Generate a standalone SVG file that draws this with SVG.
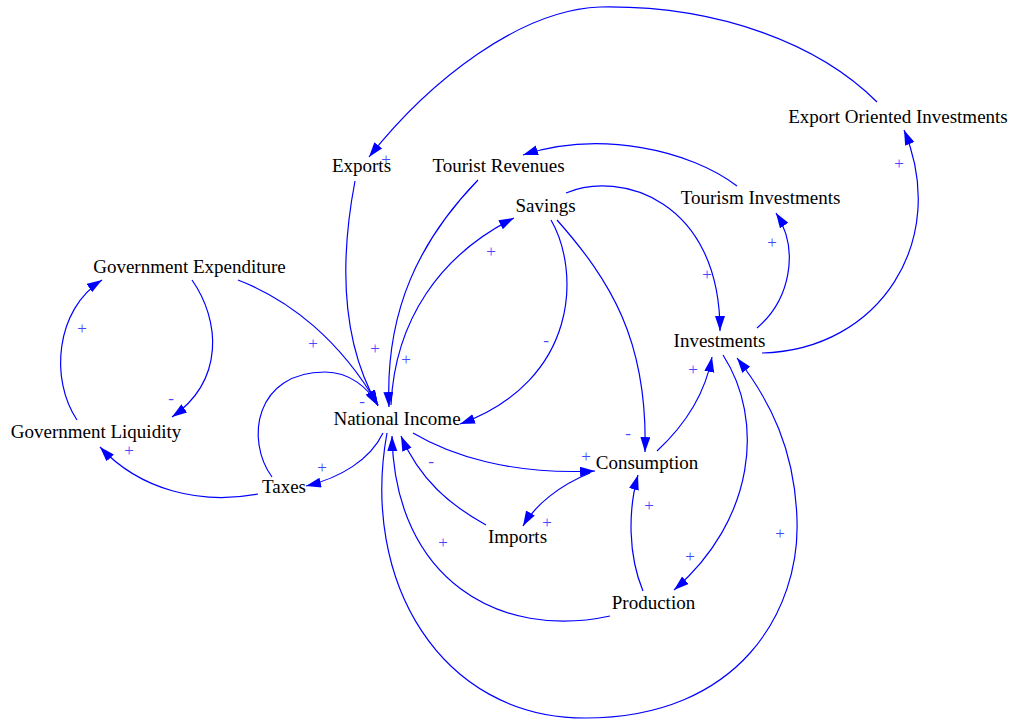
<svg xmlns="http://www.w3.org/2000/svg" width="1014" height="720" viewBox="0 0 1014 720">
<style>
.n text{font-family:"Liberation Serif","Times New Roman",serif;font-size:19px;fill:#000;text-anchor:middle}
.e path{fill:none;stroke:#0000ff;stroke-width:1.2;marker-end:url(#ah)}
.l text{font-family:"Liberation Serif","Times New Roman",serif;font-size:17px;fill:#4646ff;text-anchor:middle}
</style>
<defs>
<marker id="ah" markerUnits="userSpaceOnUse" markerWidth="16" markerHeight="11" refX="15" refY="5" orient="auto">
<path d="M0,0 L15,5 L0,10 z" fill="#0000ff"/>
</marker>
</defs>
<rect width="1014" height="720" fill="#fff"/>
<g id="connectors" class="e">
<path d="M877,102 C820,45 720,5 600,7 C520,10 430,80 369,157"/>
<path d="M737,186 C690,150 600,130 523,155"/>
<path d="M566,193 C620,170 720,200 720,331"/>
<path d="M757,328 C790,300 800,250 776,213"/>
<path d="M762,353 C880,350 950,240 904,130"/>
<path d="M355,181 C340,260 340,340 378,406"/>
<path d="M478,180 C420,240 385,310 389,407"/>
<path d="M391,405 C395,320 440,255 514,218"/>
<path d="M238,280 C290,300 340,340 378,405"/>
<path d="M272,477 C245,440 255,372 325,372 C350,372 368,388 378,405"/>
<path d="M192,280 C220,320 225,380 172,417"/>
<path d="M77,420 C50,380 55,310 102,280"/>
<path d="M258,494 C200,505 140,490 100,447"/>
<path d="M383,433 C370,460 340,478 306,486"/>
<path d="M551,220 C580,270 580,380 460,424"/>
<path d="M557,220 C610,280 648,340 645,452"/>
<path d="M413,433 C450,455 510,475 595,471"/>
<path d="M590,473 C560,485 535,505 523,526"/>
<path d="M486,525 C450,505 420,480 401,436"/>
<path d="M657,451 C685,425 705,395 712,357"/>
<path d="M723,355 C765,420 755,520 674,590"/>
<path d="M643,591 C628,555 628,510 638,475"/>
<path d="M610,616 C500,640 395,580 392,436"/>
<path d="M387,433 C360,580 440,718 585,718 C740,718 800,610 797,520 C795,450 770,400 737,358"/>
</g>
<g class="l">
<text x="386" y="165">+</text>
<text x="707" y="280">+</text>
<text x="772" y="248">+</text>
<text x="899" y="169">+</text>
<text x="313" y="349">+</text>
<text x="375" y="354">+</text>
<text x="406" y="365">+</text>
<text x="491" y="257">+</text>
<text x="362" y="407">-</text>
<text x="171" y="404">-</text>
<text x="82" y="334">+</text>
<text x="129" y="456">+</text>
<text x="322" y="473">+</text>
<text x="546" y="346">-</text>
<text x="628" y="439">-</text>
<text x="586" y="462">+</text>
<text x="547" y="528">+</text>
<text x="431" y="467">-</text>
<text x="693" y="375">+</text>
<text x="690" y="562">+</text>
<text x="649" y="511">+</text>
<text x="443" y="548">+</text>
<text x="780" y="539">+</text>
</g>
<g id="eoi" class="n"><text x="898" y="123">Export Oriented Investments</text></g>
<g id="exports" class="n"><text x="361.5" y="172">Exports</text></g>
<g id="tourist-revenues" class="n"><text x="498.5" y="172">Tourist Revenues</text></g>
<g id="savings" class="n"><text x="545.5" y="212">Savings</text></g>
<g id="tourism-investments" class="n"><text x="760.5" y="204">Tourism Investments</text></g>
<g id="government-expenditure" class="n"><text x="189.5" y="273">Government Expenditure</text></g>
<g id="investments" class="n"><text x="719.5" y="347">Investments</text></g>
<g id="national-income" class="n"><text x="397" y="425">National Income</text></g>
<g id="government-liquidity" class="n"><text x="96" y="438">Government Liquidity</text></g>
<g id="consumption" class="n"><text x="647" y="469">Consumption</text></g>
<g id="taxes" class="n"><text x="284" y="493">Taxes</text></g>
<g id="imports" class="n"><text x="517.5" y="543">Imports</text></g>
<g id="production" class="n"><text x="653.5" y="609">Production</text></g>
</svg>
